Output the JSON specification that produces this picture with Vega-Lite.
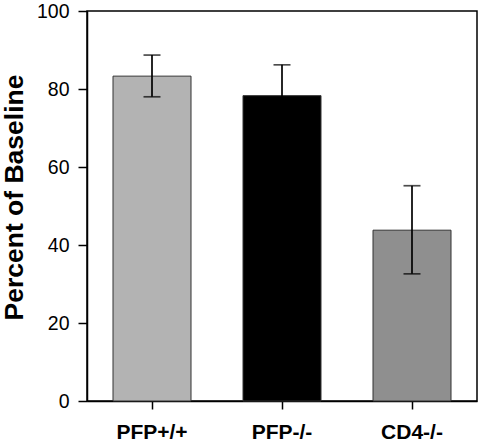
{
  "$schema": "https://vega.github.io/schema/vega-lite/v6.json",
  "autosize": {"type": "none"},
  "width": 390,
  "height": 390,
  "padding": {"left": 87, "top": 11, "right": 3, "bottom": 41},
  "background": "white",
  "config": {
    "font": "Liberation Sans",
    "view": {"stroke": "black", "strokeWidth": 1.5},
    "axis": {"grid": false, "domainColor": "black", "domainWidth": 1.5, "tickColor": "black", "tickWidth": 1.5, "labelColor": "black", "titleColor": "black"}
  },
  "data": {
    "values": [
      {"group": "PFP+/+", "value": 83.3, "lo": 78.0, "hi": 88.7, "color": "#b3b3b3"},
      {"group": "PFP-/-", "value": 78.3, "lo": 70.4, "hi": 86.2, "color": "#000000"},
      {"group": "CD4-/-", "value": 43.8, "lo": 32.6, "hi": 55.2, "color": "#8f8f8f"}
    ]
  },
  "encoding": {
    "x": {
      "field": "group", "type": "nominal", "sort": null,
      "scale": {"paddingInner": 0.4, "paddingOuter": 0.2},
      "axis": {"title": null, "labelAngle": 0, "labelFontSize": 21, "labelFontWeight": "bold", "labelPadding": 12, "tickSize": 8}
    }
  },
  "layer": [
    {
      "mark": {"type": "bar", "stroke": "#333333", "strokeWidth": 1},
      "encoding": {
        "y": {
          "field": "value", "type": "quantitative",
          "scale": {"domain": [0, 100], "nice": false},
          "axis": {"values": [0, 20, 40, 60, 80, 100], "title": "Percent of Baseline", "titleFontSize": 26.5, "titleFontWeight": "bold", "titleX": -65, "titleY": 186, "titleAngle": -90, "titleBaseline": "alphabetic", "titleAlign": "center", "labelFontSize": 19.5, "labelPadding": 9, "tickSize": 9}
        },
        "color": {"field": "color", "type": "nominal", "scale": null}
      }
    },
    {
      "mark": {"type": "rule", "color": "black", "strokeWidth": 1.7},
      "encoding": {
        "y": {"field": "lo", "type": "quantitative"},
        "y2": {"field": "hi"}
      }
    },
    {
      "mark": {"type": "tick", "color": "black", "size": 17, "thickness": 1.7},
      "encoding": {"y": {"field": "hi", "type": "quantitative"}}
    },
    {
      "mark": {"type": "tick", "color": "black", "size": 17, "thickness": 1.7},
      "encoding": {"y": {"field": "lo", "type": "quantitative"}}
    }
  ]
}
